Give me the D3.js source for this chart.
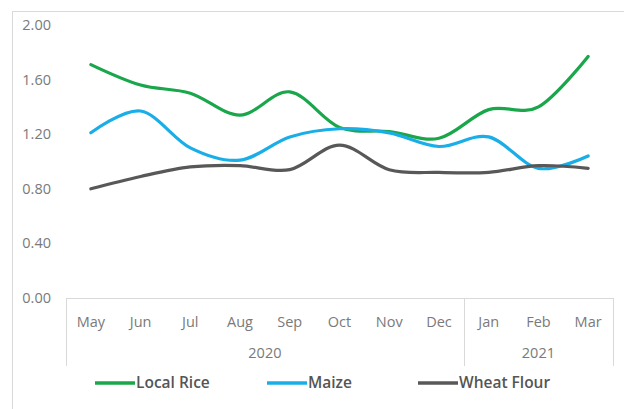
<!DOCTYPE html>
<head>
<meta charset="utf-8">
<script src="https://d3js.org/d3.v7.min.js"></script>
<style>
  body { margin: 0; background: #fff; font-family: "Open Sans", sans-serif; }
  .tick-lbl { font-size: 14.5px; fill: #7a7a7a; }
  .legend-lbl { font-size: 15.5px; font-weight: 600; fill: #555; }
</style>
</head>
<body>
<div id="chart"></div>
<script>
// data
var months = ["May", "Jun", "Jul", "Aug", "Sep", "Oct", "Nov", "Dec", "Jan", "Feb", "Mar"];
var years = [{label: "2020", from: 0, to: 7}, {label: "2021", from: 8, to: 10}];
var localRice  = [1.71, 1.56, 1.50, 1.34, 1.51, 1.25, 1.22, 1.17, 1.38, 1.40, 1.77];
var maize      = [1.21, 1.37, 1.10, 1.01, 1.18, 1.24, 1.21, 1.11, 1.18, 0.95, 1.04];
var wheatFlour = [0.80, 0.89, 0.96, 0.97, 0.94, 1.12, 0.94, 0.92, 0.92, 0.97, 0.95];
var yTicks = [0, 0.4, 0.8, 1.2, 1.6, 2.0];

var series = [
  {name: "Local Rice", values: localRice, color: "#1aa64a"},
  {name: "Maize", values: maize, color: "#1aaee8"},
  {name: "Wheat Flour", values: wheatFlour, color: "#585858"}
];

var W = 624, H = 409;
var svg = d3.select("#chart").append("svg")
    .attr("width", W).attr("height", H);

// outer chart frame
svg.append("rect")
    .attr("x", 12.5).attr("y", 11.5)
    .attr("width", 640).attr("height", 420)
    .attr("fill", "none").attr("stroke", "#d9d9d9");

var x = d3.scaleBand().domain(months).range([66, 613]);
var y = d3.scaleLinear().domain([0, 2]).range([298, 25]);

// y labels
svg.append("g").selectAll("text")
  .data(yTicks).enter().append("text")
    .attr("class", "tick-lbl")
    .attr("x", 51).attr("y", function(d) { return y(d); })
    .attr("dy", "0.35em").attr("text-anchor", "end")
    .text(function(d) { return d3.format(".2f")(d); });

// category axis box
var ax = svg.append("g").attr("stroke", "#d9d9d9").attr("fill", "none");
ax.append("line")
    .attr("x1", x.range()[0]).attr("x2", x.range()[1])
    .attr("y1", y(0) + 0.5).attr("y2", y(0) + 0.5);
var dividers = [x.range()[0], x(months[8]), x.range()[1]];
ax.selectAll("line.div").data(dividers).enter().append("line")
    .attr("class", "div")
    .attr("x1", function(d) { return Math.round(d) + 0.5; })
    .attr("x2", function(d) { return Math.round(d) + 0.5; })
    .attr("y1", y(0)).attr("y2", 366);

svg.append("g").selectAll("text")
  .data(months).enter().append("text")
    .attr("class", "tick-lbl")
    .attr("x", function(d) { return x(d) + x.bandwidth() / 2; })
    .attr("y", 322).attr("dy", "0.35em").attr("text-anchor", "middle")
    .text(function(d) { return d; });

svg.append("g").selectAll("text")
  .data(years).enter().append("text")
    .attr("class", "tick-lbl")
    .attr("x", function(d) { return (x(months[d.from]) + x(months[d.to]) + x.bandwidth()) / 2; })
    .attr("y", 353).attr("dy", "0.35em").attr("text-anchor", "middle")
    .text(function(d) { return d.label; });

// smoothed lines
var line = d3.line()
    .x(function(d, i) { return x(months[i]) + x.bandwidth() / 2; })
    .y(function(d) { return y(d); })
    .curve(d3.curveCatmullRom.alpha(0));

svg.append("g").selectAll("path")
  .data(series).enter().append("path")
    .attr("d", function(s) { return line(s.values); })
    .attr("fill", "none")
    .attr("stroke", function(s) { return s.color; })
    .attr("stroke-width", 3.2)
    .attr("stroke-linecap", "round");

// legend
var legX = [95, 267, 418];
var leg = svg.append("g").selectAll("g")
  .data(series).enter().append("g")
    .attr("transform", function(d, i) { return "translate(" + legX[i] + ",383)"; });
leg.append("line")
    .attr("x1", 0).attr("x2", 40)
    .attr("stroke", function(d) { return d.color; })
    .attr("stroke-width", 3.5);
leg.append("text")
    .attr("class", "legend-lbl")
    .attr("x", 41).attr("dy", "0.35em")
    .text(function(d) { return d.name; });
</script>
</body>
